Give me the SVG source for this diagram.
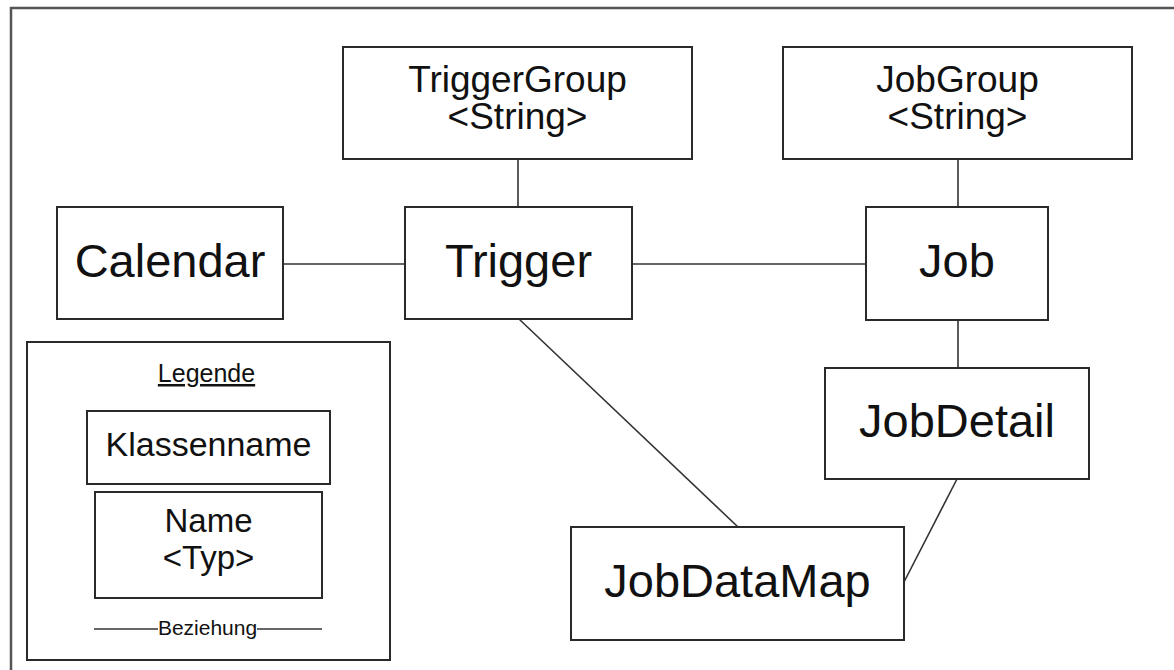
<svg xmlns="http://www.w3.org/2000/svg" width="1174" height="670" viewBox="0 0 1174 670">
  <style>
    .box { fill: #ffffff; stroke: #2a2a2a; stroke-width: 2; }
    .frame { fill: #ffffff; stroke: #555555; stroke-width: 2.5; }
    .conn line { stroke: #333333; stroke-width: 1.6; }
    text { font-family: "Liberation Sans", Arial, sans-serif; fill: #111111; text-anchor: middle; }
    .big { font-size: 47px; }
    .mid { font-size: 37px; }
    .leg { font-size: 34px; }
  </style>
  <rect class="frame" x="11" y="8" width="1200" height="700"/>

  <g id="connectors" class="conn">
    <line x1="283" y1="264" x2="405" y2="264"/>
    <line x1="632" y1="264" x2="866" y2="264"/>
    <line x1="518" y1="159" x2="518" y2="207"/>
    <line x1="958" y1="159" x2="958" y2="207"/>
    <line x1="958" y1="320" x2="958" y2="368"/>
    <line x1="957" y1="479" x2="904" y2="582"/>
    <line x1="519" y1="319" x2="738" y2="527"/>
  </g>

  <g id="triggergroup">
    <rect class="box" x="343" y="47" width="349" height="112"/>
    <text class="mid" x="517.5" y="92">TriggerGroup</text>
    <text class="mid" x="517.5" y="129">&lt;String&gt;</text>
  </g>

  <g id="jobgroup">
    <rect class="box" x="783" y="47" width="349" height="112"/>
    <text class="mid" x="957.5" y="92">JobGroup</text>
    <text class="mid" x="957.5" y="129">&lt;String&gt;</text>
  </g>

  <g id="calendar">
    <rect class="box" x="57" y="207" width="226" height="112"/>
    <text class="big" x="170" y="277">Calendar</text>
  </g>

  <g id="trigger">
    <rect class="box" x="405" y="207" width="227" height="112"/>
    <text class="big" x="518.5" y="277">Trigger</text>
  </g>

  <g id="job">
    <rect class="box" x="866" y="207" width="182" height="113"/>
    <text class="big" x="957" y="277">Job</text>
  </g>

  <g id="jobdetail">
    <rect class="box" x="825" y="368" width="264" height="111"/>
    <text class="big" x="957" y="437">JobDetail</text>
  </g>

  <g id="jobdatamap">
    <rect class="box" x="571" y="527" width="333" height="113"/>
    <text class="big" x="737.5" y="597">JobDataMap</text>
  </g>

  <g id="legend">
    <rect class="box" x="27" y="342" width="363" height="318"/>
    <text x="206.5" y="382" style="font-size:25px" text-decoration="underline">Legende</text>
    <rect class="box" x="87" y="411" width="243" height="73"/>
    <text class="leg" x="208.5" y="456">Klassenname</text>
    <rect class="box" x="95" y="492" width="227" height="106"/>
    <text x="208.5" y="532" style="font-size:33px">Name</text>
    <text x="208.5" y="569" style="font-size:33px">&lt;Typ&gt;</text>
    <line x1="94" y1="629" x2="158" y2="629" stroke="#333333" stroke-width="1.6"/>
    <line x1="257" y1="629" x2="322" y2="629" stroke="#333333" stroke-width="1.6"/>
    <text x="207.5" y="635" style="font-size:21px">Beziehung</text>
  </g>
</svg>
